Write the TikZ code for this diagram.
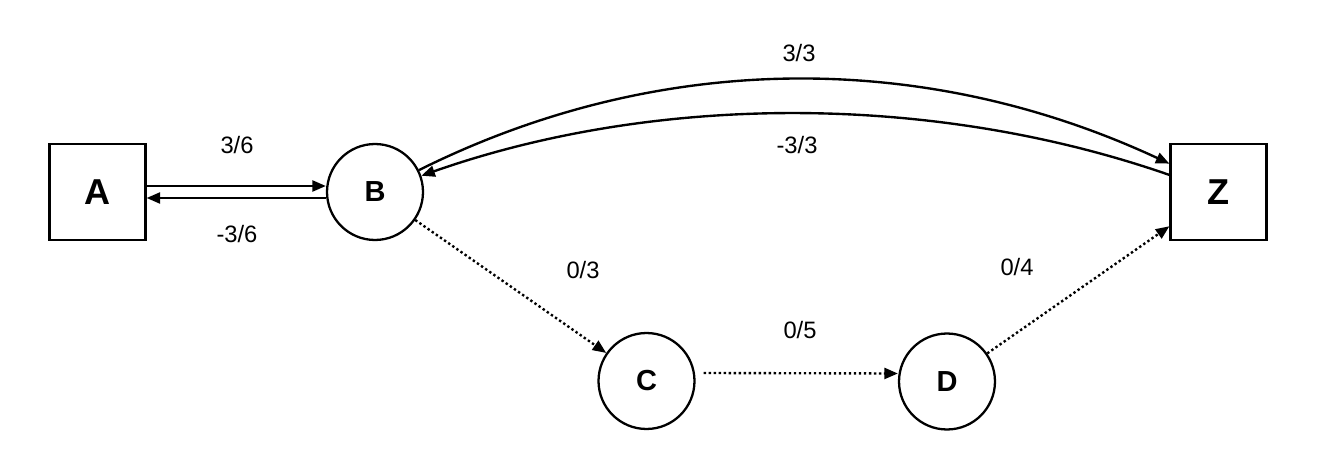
\documentclass[tikz,border=0pt]{standalone}
\usepackage{fontspec}
\setmainfont{Liberation Sans}
\usetikzlibrary{arrows.meta}

\begin{document}
\begin{tikzpicture}[x=0.02cm, y=-0.02cm,
    sqnode/.style={draw, line width=1.3pt, minimum size=1.92cm, inner sep=0pt,
      font=\fontsize{20.5}{20.5}\selectfont\bfseries},
    rdnode/.style={circle, draw, line width=1.3pt, minimum size=1.92cm, inner sep=0pt,
      font=\fontsize{16.5}{16.5}\selectfont\bfseries},
    flow/.style={-{Triangle[length=0.27cm, width=0.22cm]}, line width=1.35pt},
    idle/.style={flow, dash pattern=on 1.35pt off 1.5pt},
    lbl/.style={font=\fontsize{13.5}{14}\selectfont}]
    \useasboundingbox (0,0) rectangle (1342,476);
    % Source, sink and inner nodes
    \node[sqnode] (A) at (97.5,192) {A};
    \node[rdnode] (B) at (375,192) {B};
    \node[rdnode] (C) at (646.5,381) {C};
    \node[rdnode] (D) at (947,381.5) {D};
    \node[sqnode] (Z) at (1218.5,192) {Z};
    % Saturated edges with their residual back edges
    \draw[flow] ([yshift=0.12cm]A.east) -- ([yshift=0.12cm]B.west);
    \draw[flow] ([yshift=-0.12cm]B.west) -- ([yshift=-0.12cm]A.east);
    \draw[flow] (B) .. controls (660,50) and (925,50) .. (Z.150);
    \draw[flow] (Z) .. controls (934,93) and (657,93) .. (B);
    % Unused path
    \draw[idle] (B) -- (C);
    \draw[idle] ([xshift=0.16cm, yshift=0.16cm]C.east) -- ([yshift=0.16cm]D.west);
    \draw[idle] (D) -- (Z);
    % Flow / capacity labels
    \node[lbl] (fAB) at (237,145) {3/6};
    \node[lbl] (fBA) at (237,234) {-3/6};
    \node[lbl] (fBZ) at (799,53) {3/3};
    \node[lbl] (fZB) at (797,145) {-3/3};
    \node[lbl] (fBC) at (583,270) {0/3};
    \node[lbl] (fCD) at (800,330) {0/5};
    \node[lbl] (fDZ) at (1017,267) {0/4};
\end{tikzpicture}
\end{document}
